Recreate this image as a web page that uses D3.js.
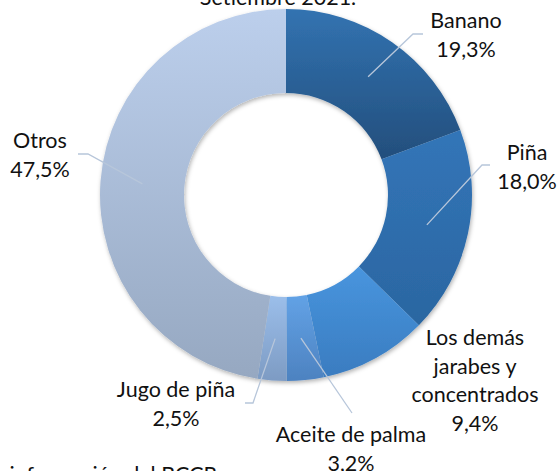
<!DOCTYPE html>
<html>
<head>
<meta charset="utf-8">
<script src="https://cdn.jsdelivr.net/npm/d3@7"></script>
<style>
  body { margin: 0; background: #fff; }
  svg { display: block; font-family: Lato, "Liberation Sans", sans-serif; }
</style>
</head>
<body>
<svg id="chart" width="559" height="471"></svg>
<script>
// data
var productos = ["Banano", "Piña", "Los demás\njarabes y\nconcentrados", "Aceite de palma", "Jugo de piña", "Otros"];
var porcentajes = [19.3, 18.0, 9.4, 3.2, 2.5, 47.5];
var tituloTxt = "Setiembre 2021.";
var fuenteTxt = "con información del BCCR";

// colours (top / bottom of each slice gradient)
var colTop = ["#3273b1", "#3275b8", "#4895de", "#62a2e6", "#9bbeea", "#bccfec"];
var colBot = ["#234e7c", "#2b66a1", "#3a7cc0", "#4d82c0", "#7d9bc3", "#96a8c1"];

// label layout: x centre, first baseline, elbow point, elbow end
var labelPos = [
  {x: 466, y: 28, elbow: [[413, 34], [423, 34]]},
  {x: 527, y: 160, elbow: [[482, 165], [490, 165]]},
  {x: 475, y: 345, elbow: null},
  {x: 351, y: 442, elbow: [[352, 413]]},
  {x: 176, y: 397, elbow: [[253, 403], [245, 403]]},
  {x: 40, y: 148, elbow: [[88, 154], [78, 154]]}
];

var cx = 286, cy = 195, rOut = 186, rIn = 102, lh = 28.5;
var svg = d3.select("#chart");
var defs = svg.append("defs");

var shadow = defs.append("filter").attr("id", "sh")
  .attr("x", "-10%").attr("y", "-10%").attr("width", "120%").attr("height", "120%");
shadow.append("feDropShadow").attr("dx", 1).attr("dy", 2)
  .attr("stdDeviation", 2).attr("flood-color", "#000").attr("flood-opacity", 0.3);

colTop.forEach(function(c, i) {
  var g = defs.append("linearGradient").attr("id", "g" + i)
    .attr("x1", 0).attr("y1", 0).attr("x2", 0).attr("y2", 1);
  g.append("stop").attr("offset", "0%").attr("stop-color", c);
  g.append("stop").attr("offset", "100%").attr("stop-color", colBot[i]);
});

var pie = d3.pie().sort(null).value(function(d) { return d; });
var arc = d3.arc().innerRadius(rIn).outerRadius(rOut);
var arcs = pie(porcentajes);

var ring = svg.append("g").attr("transform", "translate(" + cx + "," + cy + ")")
  .attr("filter", "url(#sh)");
ring.selectAll("path").data(arcs).enter().append("path")
  .attr("d", arc)
  .attr("fill", function(d, i) { return "url(#g" + i + ")"; });

// leader lines
var fmt = d3.format(".1f");
var lines = svg.append("g");
arcs.forEach(function(d, i) {
  var p = labelPos[i];
  if (!p.elbow) return;
  var c = arc.centroid(d);
  var pts = [[cx + c[0], cy + c[1]]].concat(p.elbow);
  lines.append("path")
    .attr("d", d3.line()(pts))
    .attr("fill", "none")
    .attr("stroke", "#b7c6da")
    .attr("stroke-width", 1.3);
});

// labels
var labs = svg.append("g").attr("font-size", "21.5px").attr("fill", "#111")
  .attr("text-anchor", "middle");
productos.forEach(function(name, i) {
  var p = labelPos[i];
  var rows = name.split("\n").concat([fmt(porcentajes[i]).replace(".", ",") + "%"]);
  var t = labs.append("text").attr("x", p.x).attr("y", p.y);
  rows.forEach(function(r, j) {
    t.append("tspan").attr("x", p.x).attr("y", p.y + j * lh).text(r);
  });
});

svg.append("text").attr("x", 278).attr("y", 5).attr("text-anchor", "middle")
  .attr("font-size", "21.5px").attr("fill", "#111").text(tituloTxt);
svg.append("text").attr("x", 217).attr("y", 482).attr("text-anchor", "end")
  .attr("font-size", "21.5px").attr("fill", "#111").text(fuenteTxt);
</script>
</body>
</html>
